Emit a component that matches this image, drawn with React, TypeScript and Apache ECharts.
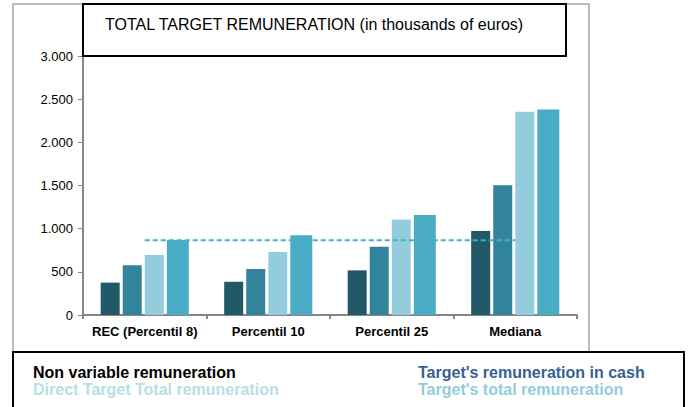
import React, { useEffect, useRef } from "react";
import * as echarts from "echarts";

const categories = ["REC (Percentil 8)", "Percentil 10", "Percentil 25", "Mediana"];
const nonVariable = [375, 385, 517, 972];
const cashRemuneration = [575, 532, 790, 1504];
const directTotal = [694, 729, 1107, 2353];
const targetTotal = [868, 925, 1157, 2380];
const recReference = [865, 865, 865, 865];
const seriesNames = [
  "Non variable remuneration",
  "Target's remuneration in cash",
  "Direct Target Total remuneration",
  "Target's total remuneration",
];
const yTicks = [0, 500, 1000, 1500, 2000, 2500, 3000];
const titleText = "TOTAL TARGET REMUNERATION (in thousands of euros)";

const FONT = "Arial, 'Liberation Sans', sans-serif";

export default function App() {
  const ref = useRef<HTMLDivElement>(null);
  useEffect(() => {
    document.body.style.margin = "0";
    const chart = echarts.init(ref.current!, null, { renderer: "svg" });
    const barColors = ["#215968", "#31849B", "#93CDDD", "#4BACC6"];
    const barWidths = [19, 19, 19, 22];
    const data = [nonVariable, cashRemuneration, directTotal, targetTotal];
    chart.setOption({
      animation: false,
      grid: { left: 83, right: 115, top: 56, bottom: 92 },
      xAxis: {
        type: "category",
        data: categories,
        axisLine: { lineStyle: { color: "#868686", width: 2 } },
        axisTick: { show: true, length: 4, lineStyle: { color: "#868686", width: 2 } },
        axisLabel: { interval: 0, color: "#000", fontFamily: FONT, fontSize: 13, fontWeight: "bold", margin: 10 },
      },
      yAxis: {
        type: "value",
        min: yTicks[0],
        max: yTicks[yTicks.length - 1],
        interval: 500,
        splitLine: { show: false },
        axisLine: { show: true, lineStyle: { color: "#868686", width: 2 } },
        axisTick: { show: true, length: 5, lineStyle: { color: "#868686", width: 1 } },
        axisLabel: {
          color: "#000",
          fontFamily: FONT,
          fontSize: 13,
          margin: 10,
          formatter: (v: number) => v.toLocaleString("de-DE"),
        },
      },
      series: [
        ...data.map((d, i) => ({
          name: seriesNames[i],
          type: "bar",
          data: d,
          barWidth: barWidths[i],
          barGap: "16%",
          itemStyle: { color: barColors[i] },
        })),
        {
          name: "REC reference",
          type: "line",
          data: recReference,
          symbol: "none",
          lineStyle: { color: "#4BACC6", width: 2, type: [5, 3] },
          z: 5,
        },
      ],
      graphic: [
        {
          type: "rect",
          shape: { x: 13, y: 4, width: 576, height: 360 },
          style: { fill: "none", stroke: "#A6A6A6", lineWidth: 1.5 },
          z: -10,
        },
        {
          type: "rect",
          shape: { x: 83, y: 4, width: 483, height: 52 },
          style: { fill: "#fff", stroke: "#000", lineWidth: 2 },
          z: 10,
        },
        {
          type: "text",
          x: 105,
          y: 24,
          style: { text: titleText, font: `16px ${FONT}`, fill: "#000", textVerticalAlign: "middle" },
          z: 11,
        },
        {
          type: "rect",
          shape: { x: 13, y: 352, width: 671, height: 70 },
          style: { fill: "#fff", stroke: "#000", lineWidth: 2 },
          z: 10,
        },
        {
          type: "text",
          x: 33,
          y: 372,
          style: { text: seriesNames[0], font: `bold 16px ${FONT}`, fill: "#000", textVerticalAlign: "middle" },
          z: 11,
        },
        {
          type: "text",
          x: 33,
          y: 389,
          style: { text: seriesNames[2], font: `bold 16px ${FONT}`, fill: "#B7DEE8", textVerticalAlign: "middle" },
          z: 11,
        },
        {
          type: "text",
          x: 418,
          y: 372,
          style: { text: seriesNames[1], font: `bold 16px ${FONT}`, fill: "#376092", textVerticalAlign: "middle" },
          z: 11,
        },
        {
          type: "text",
          x: 418,
          y: 389,
          style: { text: seriesNames[3], font: `bold 16px ${FONT}`, fill: "#93CDDD", textVerticalAlign: "middle" },
          z: 11,
        },
      ],
    });
    return () => chart.dispose();
  }, []);
  return <div ref={ref} style={{ width: 692, height: 407 }} />;
}
